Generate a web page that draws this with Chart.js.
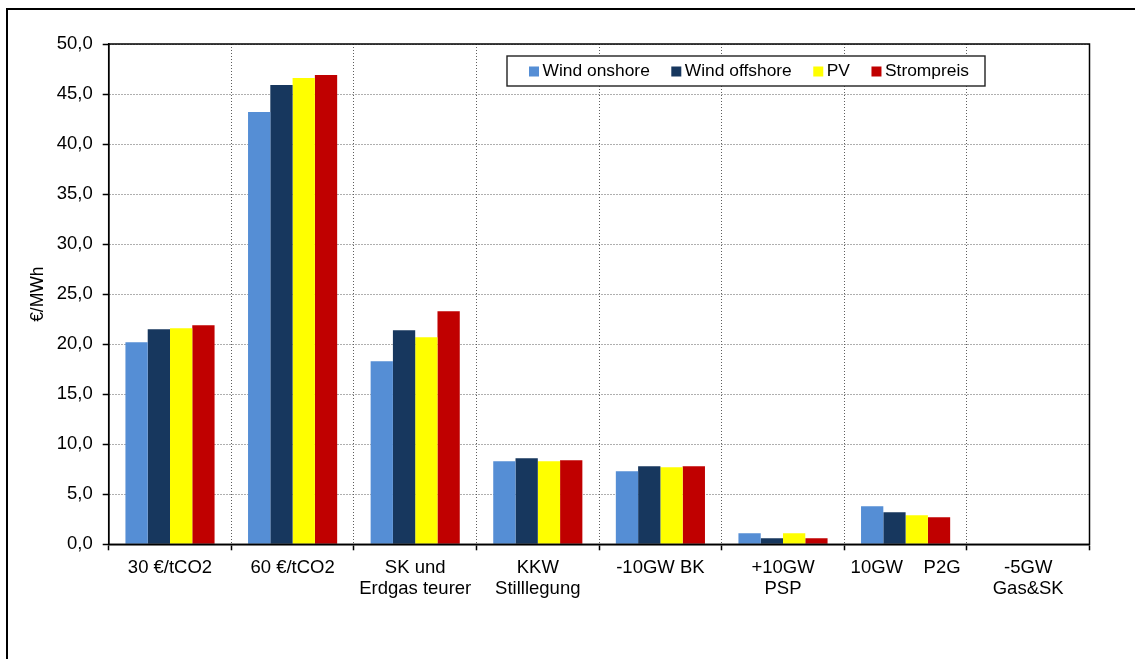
<!DOCTYPE html>
<html>
<head>
<meta charset="utf-8">
<script src="https://cdn.jsdelivr.net/npm/chart.js@4"></script>
<style>
  html, body { margin: 0; padding: 0; background: #fff; }
  #wrap { width: 1135px; height: 659px; position: relative; }
</style>
</head>
<body>
<div id="wrap"><canvas id="c" width="1135" height="659"></canvas></div>
<script>
// Scenario categories (x axis)
const categories = [
  "30 €/tCO2",
  "60 €/tCO2",
  ["SK und", "Erdgas teurer"],
  ["KKW", "Stilllegung"],
  "-10GW BK",
  ["+10GW", "PSP"],
  "10GW    P2G",
  ["-5GW", "Gas&SK"]
];

// Values in €/MWh per series
const windOnshore  = [20.2, 43.2, 18.3, 8.3, 7.3, 1.1, 3.8, 0];
const windOffshore = [21.5, 45.9, 21.4, 8.6, 7.8, 0.6, 3.2, 0];
const pv           = [21.6, 46.6, 20.7, 8.3, 7.7, 1.1, 2.9, 0];
const strompreis   = [21.9, 46.9, 23.3, 8.4, 7.8, 0.6, 2.7, 0];

const seriesNames  = ["Wind onshore", "Wind offshore", "PV", "Strompreis"];
const seriesColors = ["#558ED5", "#17375E", "#FFFF00", "#C00000"];

// Y axis range and step
const yMin = 0, yMax = 50, yStep = 5;

const FONT = "'Liberation Sans', Arial, sans-serif";
const GRID_COLOR = '#5e5e5e';
const GRID_DASH = [1, 2];

// White page background and outer frame
const frame = {
  id: 'frame',
  beforeDraw(chart) {
    const ctx = chart.ctx;
    ctx.save();
    ctx.fillStyle = '#fff';
    ctx.fillRect(0, 0, chart.width, chart.height);
    ctx.restore();
  },
  afterDraw(chart) {
    const ctx = chart.ctx;
    ctx.save();
    ctx.strokeStyle = '#000';
    ctx.lineWidth = 2;
    ctx.strokeRect(7, 9, chart.width + 20, chart.height + 20);
    ctx.restore();
  }
};

// Solid border around the plot area
const plotBorder = {
  id: 'plotBorder',
  afterDatasetsDraw(chart) {
    const {ctx, chartArea: a} = chart;
    ctx.save();
    ctx.strokeStyle = '#000';
    ctx.lineWidth = 1.5;
    ctx.strokeRect(a.left, a.top, a.right - a.left, a.bottom - a.top);
    ctx.restore();
  }
};

// Framed legend placed inside the plot area, top right
const boxedLegend = {
  id: 'boxedLegend',
  afterDraw(chart) {
    const ctx = chart.ctx;
    const box = {x: 507, y: 56, w: 478, h: 30};
    ctx.save();
    ctx.fillStyle = '#fff';
    ctx.fillRect(box.x, box.y, box.w, box.h);
    ctx.strokeStyle = '#222';
    ctx.lineWidth = 1.4;
    ctx.strokeRect(box.x, box.y, box.w, box.h);
    ctx.font = '17.4px ' + FONT;
    ctx.textBaseline = 'middle';
    ctx.textAlign = 'left';
    const cy = box.y + box.h / 2 + 0.5;
    let x = 529;
    chart.data.datasets.forEach(ds => {
      ctx.fillStyle = ds.backgroundColor;
      ctx.fillRect(x, cy - 5, 10, 10);
      ctx.fillStyle = '#000';
      ctx.fillText(ds.label, x + 13.5, cy);
      x += 13.5 + ctx.measureText(ds.label).width + 21.5;
    });
    ctx.restore();
  }
};

const seriesData = [windOnshore, windOffshore, pv, strompreis];

new Chart(document.getElementById('c'), {
  type: 'bar',
  data: {
    labels: categories,
    datasets: seriesData.map((d, i) => ({
      label: seriesNames[i],
      data: d,
      backgroundColor: seriesColors[i],
      borderWidth: 0
    }))
  },
  options: {
    responsive: false,
    animation: false,
    devicePixelRatio: 1,
    layout: { padding: { top: 44, right: 45.5, left: 0, bottom: 0 } },
    datasets: {
      bar: { categoryPercentage: 0.727, barPercentage: 1.0 }
    },
    plugins: {
      legend: { display: false },
      tooltip: { enabled: false }
    },
    scales: {
      x: {
        grid: {
          offset: true,
          color: GRID_COLOR,
          lineWidth: 1,
          drawTicks: true,
          tickLength: 6,
          tickColor: '#000',
          tickWidth: 1.5,
          tickBorderDash: []
        },
        border: { display: true, color: '#000', width: 1.5, dash: GRID_DASH },
        ticks: {
          color: '#000',
          padding: 7,
          maxRotation: 0,
          autoSkip: false,
          font: { family: FONT, size: 18.5, lineHeight: 1.15 }
        },
        afterFit(scale) { scale.height = 114.7; }
      },
      y: {
        min: yMin,
        max: yMax,
        grid: {
          color: GRID_COLOR,
          lineWidth: 1,
          drawTicks: true,
          tickLength: 6,
          tickColor: '#000',
          tickWidth: 1.5,
          tickBorderDash: []
        },
        border: { display: true, color: '#000', width: 1.5, dash: GRID_DASH },
        ticks: {
          stepSize: yStep,
          color: '#000',
          padding: 10,
          font: { family: FONT, size: 18.5 },
          callback: v => v.toFixed(1).replace('.', ',')
        },
        title: {
          display: true,
          text: '€/MWh',
          color: '#000',
          font: { family: FONT, size: 17.5 },
          padding: { top: 28, bottom: 0 }
        },
        afterFit(scale) { scale.width = 108.7; }
      }
    }
  },
  plugins: [frame, plotBorder, boxedLegend]
});
</script>
</body>
</html>
